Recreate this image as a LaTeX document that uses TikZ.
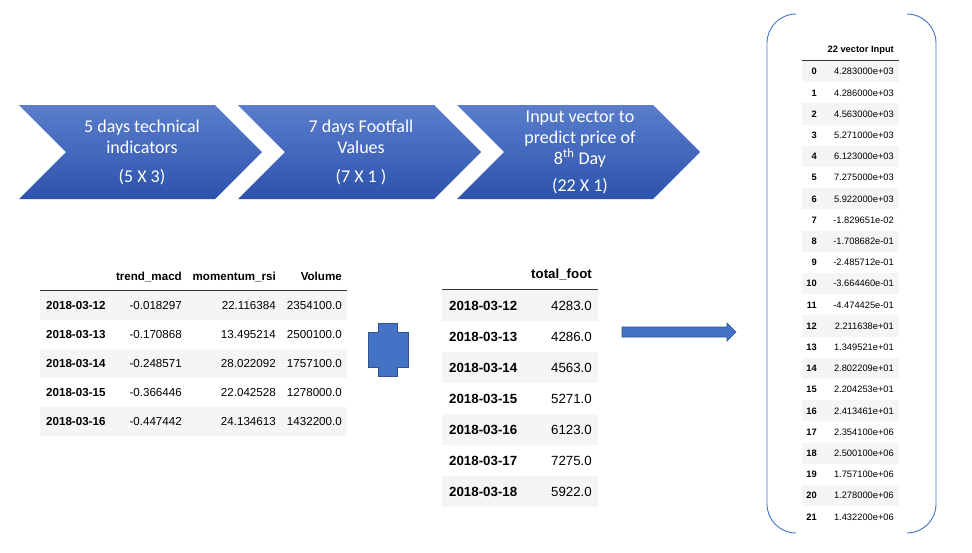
\documentclass[tikz,border=0pt]{standalone}
\usepackage{fontspec}
\setmainfont{Liberation Sans}
\newfontfamily\calib{Carlito}

\definecolor{chevtop}{RGB}{90,126,204}
\definecolor{chevbot}{RGB}{44,82,172}
\definecolor{shapeblue}{RGB}{68,114,196}
\definecolor{shapeedge}{RGB}{47,82,143}
\definecolor{rowgray}{RGB}{245,245,245}

\begin{document}
\begin{tikzpicture}[
  x=1pt, y=-1pt,
  % Chevron steps at the top
  chev/.style={top color=chevtop, bottom color=chevbot, draw=none},
  chevtext/.style={text=white, align=center, font=\calib\fontsize{18}{21}\selectfont},
  % Table cells (three sizes)
  rowshade/.style={fill=rowgray},
  headrule/.style={draw=black!80, line width=1pt},
  cellA/.style={inner sep=0pt, text height=8.3pt, text depth=0pt, font=\fontsize{11.6}{14}\selectfont},
  cellAb/.style={cellA, font=\fontsize{11.6}{14}\selectfont\bfseries},
  cellB/.style={inner sep=0pt, text height=9.5pt, text depth=0pt, font=\fontsize{13.3}{16}\selectfont},
  cellBb/.style={cellB, font=\fontsize{13.3}{16}\selectfont\bfseries},
  cellC/.style={inner sep=0pt, text height=6.7pt, text depth=0pt, font=\fontsize{9.3}{11}\selectfont},
  cellCb/.style={cellC, font=\fontsize{9.3}{11}\selectfont\bfseries},
  % Blue shapes
  blueshape/.style={fill=shapeblue, draw=shapeedge, line width=0.6pt},
  bracket/.style={draw=shapeblue, line width=0.9pt, rounded corners=29pt}
]
\useasboundingbox (0,0) rectangle (972,552);

% Chevrons
\foreach \cx in {19,238,457}
  \path[chev] (\cx,105) -- ({\cx+196},105) -- ({\cx+243},152) -- ({\cx+196},199)
    -- (\cx,199) -- ({\cx+47},152) -- cycle;

\node[chevtext] (step1) at (142,152) {5 days technical\\indicators\\[8pt](5 X 3)};
\node[chevtext] (step2) at (361,152) {7 days Footfall\\Values\\[8pt](7 X 1 )};
\node[chevtext] (step3) at (580,152) {Input vector to\\predict price of\\8\textsuperscript{th} Day\\[6pt](22 X 1)};

% Technical indicators table
\foreach \i in {0,2,4}
  \fill[rowshade] (40,{291+29*\i}) rectangle (347,{320+29*\i});
\draw[headrule] (40,290) -- (347,290);
\node[cellAb, anchor=east] (hmacd) at (182,276) {trend\_macd};
\node[cellAb, anchor=east] (hrsi) at (276,276) {momentum\_rsi};
\node[cellAb, anchor=east] (hvol) at (342,276) {Volume};
\foreach \d/\m/\r/\v [count=\i] in {
    2018-03-12/-0.018297/22.116384/2354100.0,
    2018-03-13/-0.170868/13.495214/2500100.0,
    2018-03-14/-0.248571/28.022092/1757100.0,
    2018-03-15/-0.366446/22.042528/1278000.0,
    2018-03-16/-0.447442/24.134613/1432200.0}{
  \node[cellAb, anchor=west] (tdate\i) at (46,{305.5+29*(\i-1)}) {\d};
  \node[cellA, anchor=east] (tmacd\i) at (182,{305.5+29*(\i-1)}) {\m};
  \node[cellA, anchor=east] (trsi\i) at (276,{305.5+29*(\i-1)}) {\r};
  \node[cellA, anchor=east] (tvol\i) at (342,{305.5+29*(\i-1)}) {\v};
}

% Plus sign
\draw[blueshape] (378,323) -- (397,323) -- (397,332) -- (408,332) -- (408,367)
  -- (397,367) -- (397,376) -- (378,376) -- (378,367) -- (368,367) -- (368,332)
  -- (378,332) -- cycle;

% Footfall table
\foreach \i in {0,2,4,6}
  \fill[rowshade] (442,{290+31*\i}) rectangle (598,{321+31*\i});
\draw[headrule] (442,289) -- (598,289);
\node[cellBb, anchor=east] (hfoot) at (592,274) {total\_foot};
\foreach \d/\f [count=\i] in {
    2018-03-12/4283.0, 2018-03-13/4286.0, 2018-03-14/4563.0,
    2018-03-15/5271.0, 2018-03-16/6123.0, 2018-03-17/7275.0,
    2018-03-18/5922.0}{
  \node[cellBb, anchor=west] (fdate\i) at (449,{305.5+31*(\i-1)}) {\d};
  \node[cellB, anchor=east] (fval\i) at (592,{305.5+31*(\i-1)}) {\f};
}

% Arrow to the vector
\draw[blueshape] (622,327) -- (727,327) -- (727,323) -- (736,332) -- (727,341)
  -- (727,337) -- (622,337) -- cycle;

% Bracket round the 22 vector
\draw[bracket] (796,14) -- (767,14) -- (767,533) -- (796,533);
\draw[bracket] (908,14) -- (936,14) -- (936,533) -- (908,533);

% 22 vector table
\foreach \k in {0,2,...,20}
  \fill[rowshade] (802,{61+21.2*\k}) rectangle (899,{82.2+21.2*\k});
\draw[headrule] (802,60) -- (899,60);
\node[cellCb, anchor=east] (hvec) at (894,49) {22 vector Input};
\foreach \v [count=\k from 0] in {
    4.283000e+03, 4.286000e+03, 4.563000e+03, 5.271000e+03, 6.123000e+03,
    7.275000e+03, 5.922000e+03, -1.829651e-02, -1.708682e-01, -2.485712e-01,
    -3.664460e-01, -4.474425e-01, 2.211638e+01, 1.349521e+01, 2.802209e+01,
    2.204253e+01, 2.413461e+01, 2.354100e+06, 2.500100e+06, 1.757100e+06,
    1.278000e+06, 1.432200e+06}{
  \node[cellCb, anchor=east] (vidx\k) at (817,{71.6+21.2*\k}) {\k};
  \node[cellC, anchor=east] (vval\k) at (894,{71.6+21.2*\k}) {\v};
}

\end{tikzpicture}
\end{document}
